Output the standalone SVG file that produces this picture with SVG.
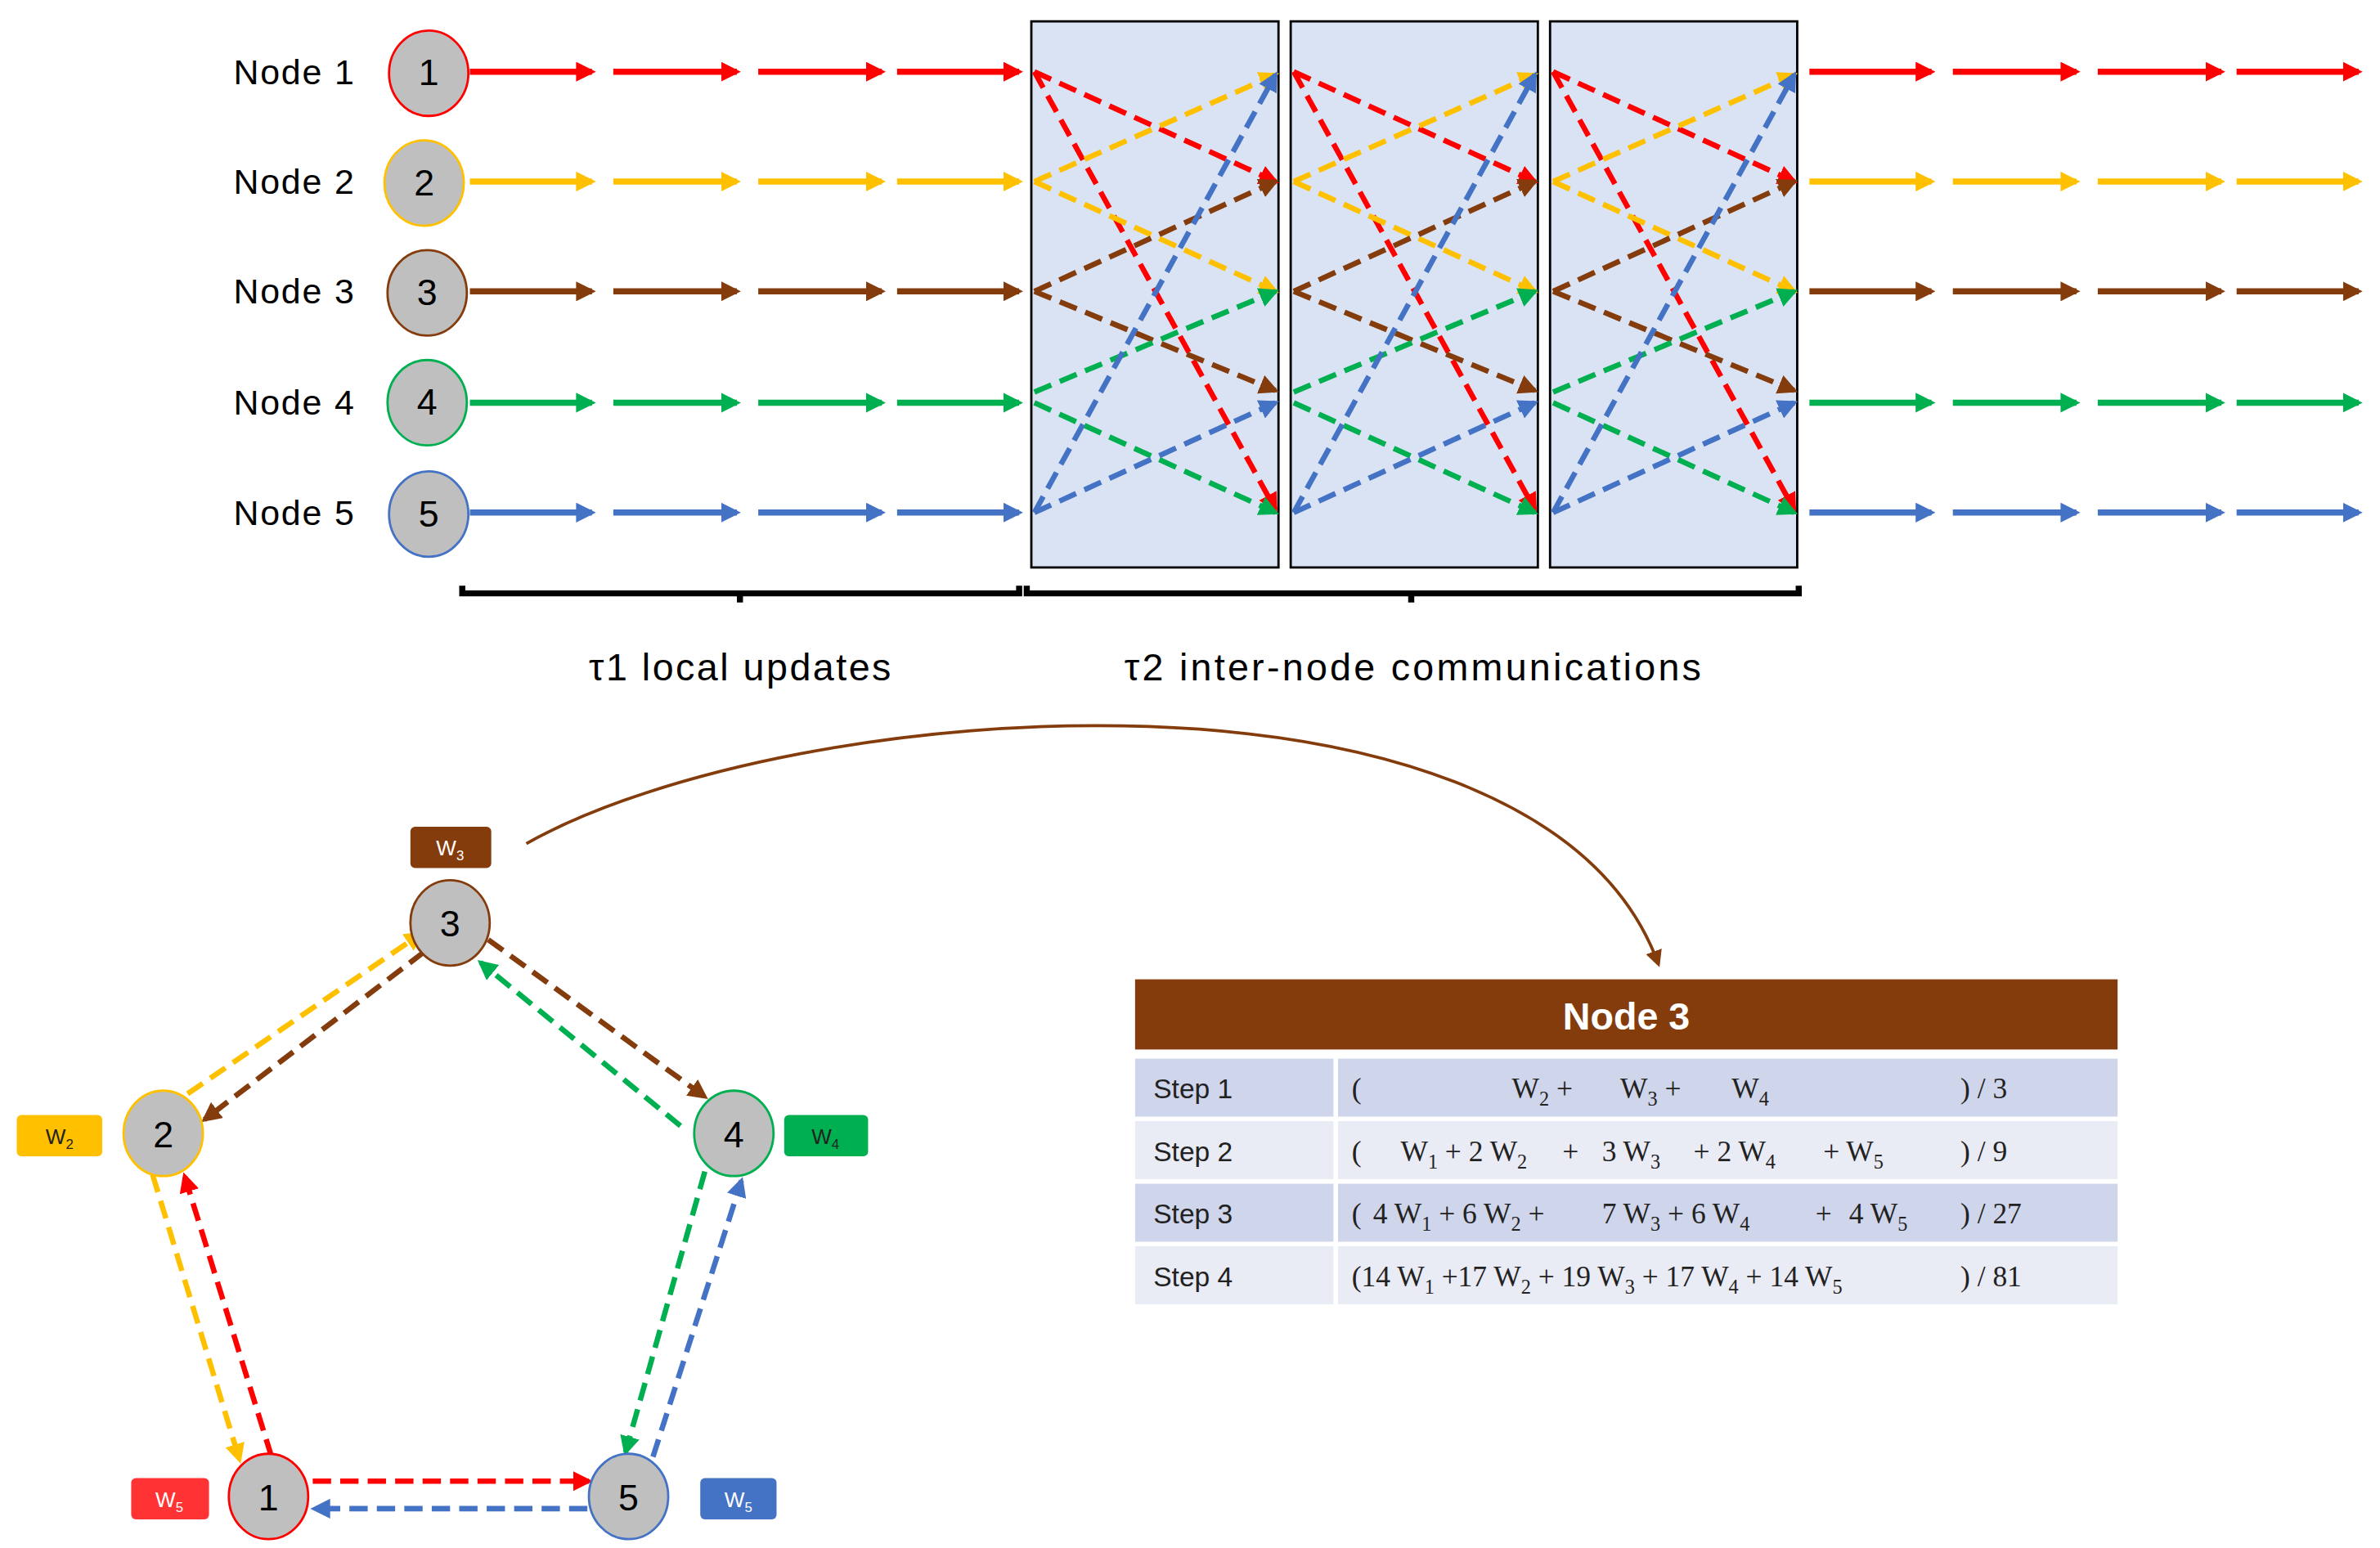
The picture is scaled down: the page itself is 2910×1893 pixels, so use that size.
<svg xmlns="http://www.w3.org/2000/svg" xmlns:xlink="http://www.w3.org/1999/xlink" width="2910" height="1893" viewBox="0 0 2910 1893">
<style>
.lbl{font-family:"Liberation Sans",Arial,sans-serif;font-size:23px;fill:#000}
.num{font-family:"Liberation Sans",Arial,sans-serif;font-size:24px;fill:#000;text-anchor:middle}
.cap{font-family:"Liberation Sans",Arial,sans-serif;font-size:25px;fill:#000;text-anchor:middle}
.node{fill:#bfbfbf;stroke-width:1.5}
.box{fill:#dae3f3;stroke:#000;stroke-width:1.5}
.solid{stroke-width:4;fill:none}
.dash{stroke-width:3.5;fill:none;stroke-dasharray:12 6}
.step{font-family:"Liberation Sans",Arial,sans-serif;font-size:18px;fill:#222}
.f{font-family:"Liberation Serif","Times New Roman",serif;font-size:19px;fill:#222}
.wl{font-family:"Liberation Sans",Arial,sans-serif;font-size:14px;text-anchor:middle}
</style>
<defs>
<marker id="mr" viewBox="0 0 10 10" refX="8" refY="5" markerWidth="13" markerHeight="13" markerUnits="userSpaceOnUse" orient="auto"><path d="M0,0L10,5L0,10z" fill="#ff0000"/></marker>
<marker id="my" viewBox="0 0 10 10" refX="8" refY="5" markerWidth="13" markerHeight="13" markerUnits="userSpaceOnUse" orient="auto"><path d="M0,0L10,5L0,10z" fill="#ffc000"/></marker>
<marker id="mb" viewBox="0 0 10 10" refX="8" refY="5" markerWidth="13" markerHeight="13" markerUnits="userSpaceOnUse" orient="auto"><path d="M0,0L10,5L0,10z" fill="#843c0c"/></marker>
<marker id="mg" viewBox="0 0 10 10" refX="8" refY="5" markerWidth="13" markerHeight="13" markerUnits="userSpaceOnUse" orient="auto"><path d="M0,0L10,5L0,10z" fill="#00b050"/></marker>
<marker id="mu" viewBox="0 0 10 10" refX="8" refY="5" markerWidth="13" markerHeight="13" markerUnits="userSpaceOnUse" orient="auto"><path d="M0,0L10,5L0,10z" fill="#4472c4"/></marker>
<marker id="mc" viewBox="0 0 10 10" refX="8" refY="5" markerWidth="11" markerHeight="11" markerUnits="userSpaceOnUse" orient="auto"><path d="M0,0L10,5L0,10z" fill="#843c0c"/></marker>
<g id="hrow">
<line x1="0" y1="0" x2="80" y2="0"/><line x1="94" y1="0" x2="175" y2="0"/><line x1="189" y1="0" x2="270" y2="0"/><line x1="280" y1="0" x2="360" y2="0"/>
</g>
<g id="xbox">
<line class="dash" stroke="#ff0000" marker-end="url(#mr)" x1="678" y1="47" x2="836" y2="119"/>
<line class="dash" stroke="#ff0000" marker-end="url(#mr)" x1="678" y1="47" x2="836" y2="334"/>
<line class="dash" stroke="#ffc000" marker-end="url(#my)" x1="678" y1="119" x2="836" y2="49"/>
<line class="dash" stroke="#ffc000" marker-end="url(#my)" x1="678" y1="119" x2="836" y2="191"/>
<line class="dash" stroke="#843c0c" marker-end="url(#mb)" x1="678" y1="191" x2="836" y2="119"/>
<line class="dash" stroke="#843c0c" marker-end="url(#mb)" x1="678" y1="191" x2="836" y2="256"/>
<line class="dash" stroke="#00b050" marker-end="url(#mg)" x1="678" y1="257" x2="836" y2="191"/>
<line class="dash" stroke="#00b050" marker-end="url(#mg)" x1="678" y1="264" x2="836" y2="336"/>
<line class="dash" stroke="#4472c4" marker-end="url(#mu)" x1="678" y1="336" x2="836" y2="264"/>
<line class="dash" stroke="#4472c4" marker-end="url(#mu)" x1="678" y1="336" x2="836" y2="49"/>
</g>
</defs>
<rect width="2910" height="1893" fill="#fff"/>
<g transform="scale(1.8654)">
<g id="boxes">
<rect class="box" x="676" y="14" width="162" height="358"/>
<rect class="box" x="846" y="14" width="162" height="358"/>
<rect class="box" x="1016" y="14" width="162" height="358"/>
</g>
<g id="connectors">
<g class="solid" stroke="#ff0000" marker-end="url(#mr)"><use xlink:href="#hrow" x="308" y="47"/><use xlink:href="#hrow" x="1186" y="47"/></g>
<g class="solid" stroke="#ffc000" marker-end="url(#my)"><use xlink:href="#hrow" x="308" y="119"/><use xlink:href="#hrow" x="1186" y="119"/></g>
<g class="solid" stroke="#843c0c" marker-end="url(#mb)"><use xlink:href="#hrow" x="308" y="191"/><use xlink:href="#hrow" x="1186" y="191"/></g>
<g class="solid" stroke="#00b050" marker-end="url(#mg)"><use xlink:href="#hrow" x="308" y="264"/><use xlink:href="#hrow" x="1186" y="264"/></g>
<g class="solid" stroke="#4472c4" marker-end="url(#mu)"><use xlink:href="#hrow" x="308" y="336"/><use xlink:href="#hrow" x="1186" y="336"/></g>
<use xlink:href="#xbox" x="0"/><use xlink:href="#xbox" x="170"/><use xlink:href="#xbox" x="340"/>
<path d="M345,553 C520,455 1010,420 1087,632" fill="none" stroke="#843c0c" stroke-width="2" marker-end="url(#mc)"/>
<line class="dash" stroke="#ffc000" marker-end="url(#my)" x1="123" y1="717" x2="276" y2="612"/>
<line class="dash" stroke="#843c0c" marker-end="url(#mb)" x1="278" y1="624" x2="134" y2="734"/>
<line class="dash" stroke="#843c0c" marker-end="url(#mb)" x1="320" y1="616" x2="462" y2="719"/>
<line class="dash" stroke="#00b050" marker-end="url(#mg)" x1="446" y1="738" x2="315" y2="631"/>
<line class="dash" stroke="#00b050" marker-end="url(#mg)" x1="462" y1="768" x2="410" y2="952"/>
<line class="dash" stroke="#4472c4" marker-end="url(#mu)" x1="428" y1="955" x2="486" y2="774"/>
<line class="dash" stroke="#ffc000" marker-end="url(#my)" x1="100" y1="770" x2="157" y2="957"/>
<line class="dash" stroke="#ff0000" marker-end="url(#mr)" x1="178" y1="955" x2="121" y2="771"/>
<line class="dash" stroke="#ff0000" marker-end="url(#mr)" x1="205" y1="971" x2="386" y2="971"/>
<line class="dash" stroke="#4472c4" marker-end="url(#mu)" x1="385" y1="989" x2="206" y2="989"/>
</g>
<g id="labels">
<text class="lbl" x="153" y="55" textLength="79">Node 1</text>
<text class="lbl" x="153" y="127" textLength="79">Node 2</text>
<text class="lbl" x="153" y="199" textLength="79">Node 3</text>
<text class="lbl" x="153" y="272" textLength="79">Node 4</text>
<text class="lbl" x="153" y="344" textLength="79">Node 5</text>
</g>
<g id="n1"><ellipse class="node" stroke="#ff0000" cx="281" cy="48" rx="26" ry="28"/><text class="num" x="281" y="56">1</text></g>
<g id="n2"><ellipse class="node" stroke="#ffc000" cx="278" cy="120" rx="26" ry="28"/><text class="num" x="278" y="128">2</text></g>
<g id="n3"><ellipse class="node" stroke="#843c0c" cx="280" cy="192" rx="26" ry="28"/><text class="num" x="280" y="200">3</text></g>
<g id="n4"><ellipse class="node" stroke="#00b050" cx="280" cy="264" rx="26" ry="28"/><text class="num" x="280" y="272">4</text></g>
<g id="n5"><ellipse class="node" stroke="#4472c4" cx="281" cy="337" rx="26" ry="28"/><text class="num" x="281" y="345">5</text></g>
<g id="braces" fill="none" stroke="#000" stroke-width="4">
<path d="M303,384 V389 H668 V384 M485,389 V395"/>
<path d="M673,384 V389 H1179 V384 M925,389 V395"/>
</g>
<g id="captions">
<text class="cap" x="485" y="446" textLength="198">τ1 local updates</text>
<text class="cap" x="926" y="446" textLength="378">τ2 inter-node communications</text>
</g>
<g id="p3"><ellipse class="node" stroke="#843c0c" cx="295" cy="605" rx="26" ry="28"/><text class="num" x="295" y="614">3</text></g>
<g id="p2"><ellipse class="node" stroke="#ffc000" cx="107" cy="743" rx="26" ry="28"/><text class="num" x="107" y="752">2</text></g>
<g id="p4"><ellipse class="node" stroke="#00b050" cx="481" cy="743" rx="26" ry="28"/><text class="num" x="481" y="752">4</text></g>
<g id="p1"><ellipse class="node" stroke="#ff0000" cx="176" cy="981" rx="26" ry="28"/><text class="num" x="176" y="990">1</text></g>
<g id="p5"><ellipse class="node" stroke="#4472c4" cx="412" cy="981" rx="26" ry="28"/><text class="num" x="412" y="990">5</text></g>
<g id="w3"><rect x="269" y="542" width="53" height="27" rx="3" fill="#843c0c"/><text class="wl" x="295" y="561" fill="#fff">W<tspan font-size="9" dy="3">3</tspan></text></g>
<g id="w2"><rect x="11" y="731" width="56" height="27" rx="3" fill="#ffc000"/><text class="wl" x="39" y="750" fill="#222">W<tspan font-size="9" dy="3">2</tspan></text></g>
<g id="w4"><rect x="514" y="731" width="55" height="27" rx="3" fill="#00b050"/><text class="wl" x="541" y="750" fill="#222">W<tspan font-size="9" dy="3">4</tspan></text></g>
<g id="w5r"><rect x="86" y="969" width="51" height="27" rx="3" fill="#ff3333"/><text class="wl" x="111" y="988" fill="#fff">W<tspan font-size="9" dy="3">5</tspan></text></g>
<g id="w5b"><rect x="459" y="969" width="50" height="27" rx="3" fill="#4472c4"/><text class="wl" x="484" y="988" fill="#fff">W<tspan font-size="9" dy="3">5</tspan></text></g>
<g id="table">
<rect x="744" y="642" width="644" height="46" fill="#843c0c"/>
<text x="1066" y="675" text-anchor="middle" font-family="Liberation Sans,Arial,sans-serif" font-size="25" font-weight="bold" fill="#fff">Node 3</text>
<rect x="744" y="694" width="130" height="38" fill="#cfd5ea"/><rect x="877" y="694" width="511" height="38" fill="#cfd5ea"/>
<rect x="744" y="735" width="130" height="38" fill="#e9ebf5"/><rect x="877" y="735" width="511" height="38" fill="#e9ebf5"/>
<rect x="744" y="776" width="130" height="38" fill="#cfd5ea"/><rect x="877" y="776" width="511" height="38" fill="#cfd5ea"/>
<rect x="744" y="817" width="130" height="38" fill="#e9ebf5"/><rect x="877" y="817" width="511" height="38" fill="#e9ebf5"/>
<text class="step" x="756" y="720">Step 1</text>
<text class="step" x="756" y="761">Step 2</text>
<text class="step" x="756" y="802">Step 3</text>
<text class="step" x="756" y="843">Step 4</text>
<text class="f" y="720"><tspan x="886">(</tspan><tspan x="991">W</tspan><tspan font-size="13" dy="5">2</tspan><tspan dy="-5"> +</tspan><tspan x="1062">W</tspan><tspan font-size="13" dy="5">3</tspan><tspan dy="-5"> +</tspan><tspan x="1135">W</tspan><tspan font-size="13" dy="5">4</tspan><tspan x="1285" dy="-5">) / 3</tspan></text>
<text class="f" y="761"><tspan x="886">(</tspan><tspan x="918">W</tspan><tspan font-size="13" dy="5">1</tspan><tspan dy="-5"> + 2 W</tspan><tspan font-size="13" dy="5">2</tspan><tspan x="1024" dy="-5">+</tspan><tspan x="1050">3 W</tspan><tspan font-size="13" dy="5">3</tspan><tspan x="1110" dy="-5">+ 2 W</tspan><tspan font-size="13" dy="5">4</tspan><tspan x="1195" dy="-5">+ W</tspan><tspan font-size="13" dy="5">5</tspan><tspan x="1285" dy="-5">) / 9</tspan></text>
<text class="f" y="802"><tspan x="886">(</tspan><tspan x="900">4 W</tspan><tspan font-size="13" dy="5">1</tspan><tspan dy="-5"> + 6 W</tspan><tspan font-size="13" dy="5">2</tspan><tspan dy="-5"> +</tspan><tspan x="1050">7 W</tspan><tspan font-size="13" dy="5">3</tspan><tspan dy="-5"> + 6 W</tspan><tspan font-size="13" dy="5">4</tspan><tspan x="1190" dy="-5">+</tspan><tspan x="1212">4 W</tspan><tspan font-size="13" dy="5">5</tspan><tspan x="1285" dy="-5">) / 27</tspan></text>
<text class="f" y="843"><tspan x="886">(14 W</tspan><tspan font-size="13" dy="5">1</tspan><tspan dy="-5"> +17 W</tspan><tspan font-size="13" dy="5">2</tspan><tspan dy="-5"> + 19 W</tspan><tspan font-size="13" dy="5">3</tspan><tspan dy="-5"> + 17 W</tspan><tspan font-size="13" dy="5">4</tspan><tspan dy="-5"> + 14 W</tspan><tspan font-size="13" dy="5">5</tspan><tspan x="1285" dy="-5">) / 81</tspan></text>
</g>
</g>
</svg>
